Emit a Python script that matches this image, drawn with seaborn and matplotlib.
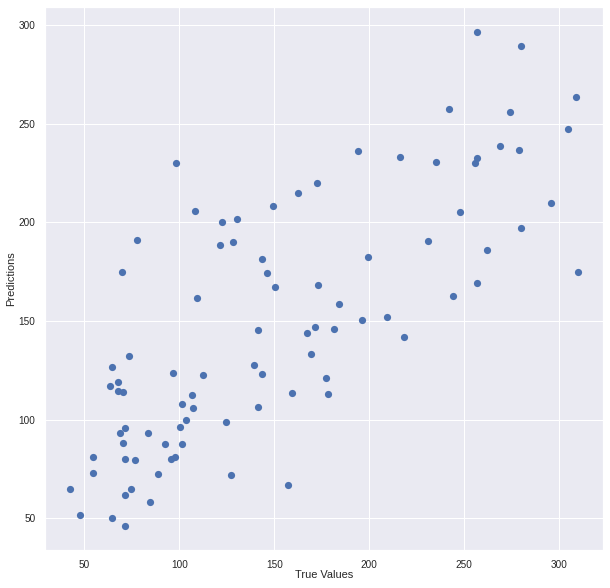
import numpy as np
import pandas as pd
import matplotlib
matplotlib.use('Agg')
import matplotlib.pyplot as plt
import seaborn as sns

true_values = [
    98.4, 108.4, 77.9, 122.6, 130.5, 121.6, 128.4, 70.0, 149.5, 162.6,
    172.6, 194.2, 216.3, 143.7, 146.3, 199.5, 231.1, 256.8, 280.0, 308.9,
    242.1, 274.2, 304.7, 268.9, 278.9, 256.8, 255.8, 235.3, 295.8, 247.9,
    280.0, 262.1, 310.0, 109.5, 73.7, 64.7, 67.9, 63.7, 67.9, 70.5,
    96.8, 112.6, 106.8, 101.6, 107.4, 103.7, 100.5, 101.6, 92.6, 95.8,
    97.9, 124.7, 127.4, 71.6, 68.9, 83.7, 70.5, 54.7, 71.6, 76.8,
    54.7, 88.9, 42.6, 74.7, 71.6, 84.7, 47.9, 64.7, 71.6, 150.5,
    173.2, 184.2, 196.3, 209.5, 218.4, 141.6, 167.4, 171.6, 181.6, 169.5,
    139.5, 143.7, 177.4, 159.5, 178.4, 141.6, 157.4, 244.2, 256.8,
]

predictions = [
    229.9, 205.6, 190.9, 200.0, 201.5, 188.3, 189.9, 174.7, 208.1, 214.7,
    219.8, 236.0, 232.9, 181.3, 174.2, 182.3, 190.4, 296.3, 289.2, 263.4,
    257.3, 255.8, 247.1, 238.5, 236.5, 232.4, 229.9, 230.4, 209.6, 205.1,
    197.0, 185.8, 174.7, 161.5, 132.1, 126.5, 118.9, 116.9, 114.3, 113.8,
    123.4, 122.4, 112.3, 107.8, 105.7, 99.6, 96.1, 87.5, 87.5, 79.9,
    80.9, 98.6, 71.8, 95.6, 93.0, 93.0, 88.0, 80.9, 79.9, 79.4,
    72.8, 72.3, 64.7, 64.7, 61.6, 58.1, 51.5, 50.0, 45.9, 167.1,
    168.1, 158.4, 150.3, 151.9, 141.7, 145.3, 143.7, 146.8, 145.8, 133.1,
    127.5, 123.0, 121.0, 113.3, 112.8, 106.2, 66.7, 162.5, 169.1,
]

sns.set_theme(style='darkgrid')
plt.rcParams['font.family'] = ['Liberation Sans', 'DejaVu Sans']

df = pd.DataFrame({'true': true_values, 'pred': predictions})

fig = plt.figure(figsize=(610 / 72, 588 / 72), dpi=72)
ax = fig.add_axes([45 / 610, 1 - 550 / 588, 558 / 610, 543 / 588])
sns.scatterplot(x='true', y='pred', data=df, ax=ax, color='#4C72B0', s=52, linewidth=0)
ax.set_xlabel('True Values', fontsize=11, labelpad=1)
ax.set_ylabel('Predictions', fontsize=11, labelpad=2)
ax.tick_params(labelsize=10, colors='#262626')
ax.set_xticks([50, 100, 150, 200, 250, 300])
ax.set_yticks([50, 100, 150, 200, 250, 300])
ax.set_xlim(29.3, 323)
ax.set_ylim(33.9, 309.1)

fig.savefig('out.png', dpi=72)
